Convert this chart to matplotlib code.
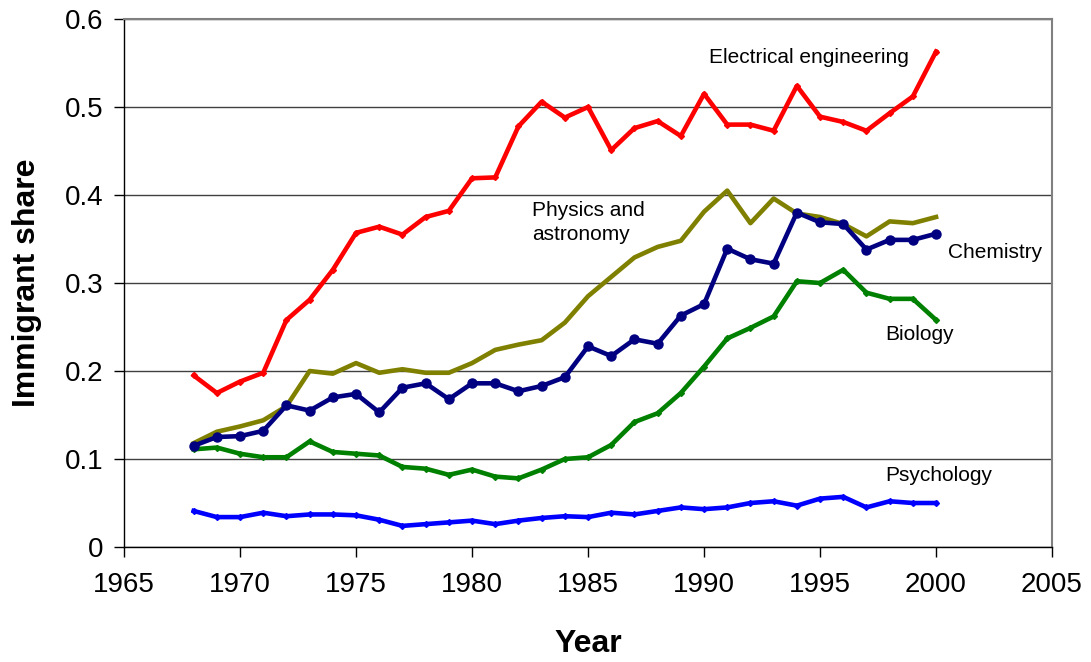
import matplotlib
matplotlib.use("Agg")
import matplotlib.pyplot as plt
from matplotlib.ticker import FuncFormatter

plt.rcParams['font.family'] = ['Liberation Sans', 'DejaVu Sans']

years = list(range(1968, 2001))

electrical = [0.195, 0.175, 0.188, 0.198, 0.258, 0.281, 0.315, 0.357, 0.364, 0.355,
              0.375, 0.382, 0.419, 0.420, 0.478, 0.506, 0.488, 0.500, 0.451, 0.476,
              0.484, 0.467, 0.515, 0.480, 0.480, 0.473, 0.524, 0.489, 0.483, 0.473,
              0.493, 0.512, 0.563]
physics = [0.118, 0.131, 0.137, 0.144, 0.160, 0.200, 0.197, 0.209, 0.198, 0.202,
           0.198, 0.198, 0.209, 0.224, 0.230, 0.235, 0.255, 0.285, 0.307, 0.329,
           0.341, 0.348, 0.381, 0.405, 0.368, 0.396, 0.379, 0.375, 0.367, 0.353,
           0.370, 0.368, 0.375]
chemistry = [0.115, 0.125, 0.126, 0.132, 0.161, 0.155, 0.170, 0.174, 0.153, 0.181,
             0.186, 0.168, 0.186, 0.186, 0.177, 0.183, 0.193, 0.228, 0.217, 0.236,
             0.231, 0.263, 0.276, 0.339, 0.327, 0.322, 0.380, 0.369, 0.367, 0.338,
             0.349, 0.349, 0.356]
biology = [0.111, 0.113, 0.106, 0.102, 0.102, 0.120, 0.108, 0.106, 0.104, 0.091,
           0.089, 0.082, 0.088, 0.080, 0.078, 0.088, 0.100, 0.102, 0.116, 0.142,
           0.152, 0.175, 0.205, 0.237, 0.249, 0.262, 0.302, 0.300, 0.315, 0.289,
           0.282, 0.282, 0.258]
psychology = [0.041, 0.034, 0.034, 0.039, 0.035, 0.037, 0.037, 0.036, 0.031, 0.024,
              0.026, 0.028, 0.030, 0.026, 0.030, 0.033, 0.035, 0.034, 0.039, 0.037,
              0.041, 0.045, 0.043, 0.045, 0.050, 0.052, 0.047, 0.055, 0.057, 0.045,
              0.052, 0.050, 0.050]

fig = plt.figure(figsize=(10.91, 6.62), dpi=100)
ax = fig.add_axes([0.1137, 0.1737, 0.8506, 0.7976])

lw = 3.3
ax.plot(years, psychology, color='#0000FF', lw=lw, marker='D', ms=3, zorder=3)
ax.plot(years, biology, color='#008000', lw=lw, marker='D', ms=3, zorder=3)
ax.plot(years, physics, color='#808000', lw=lw, zorder=3)
ax.plot(years, chemistry, color='#000080', lw=lw, marker='o', ms=6.5, zorder=4)
ax.plot(years, electrical, color='#FF0000', lw=lw, marker='D', ms=3, zorder=4)

ax.set_xlim(1965, 2005)
ax.set_ylim(0, 0.6)
ax.set_xticks(range(1965, 2006, 5))
ax.set_yticks([0, 0.1, 0.2, 0.3, 0.4, 0.5, 0.6])
ax.yaxis.set_major_formatter(FuncFormatter(lambda v, p: '0' if v == 0 else '%.1f' % v))

ax.grid(axis='y', color='#404040', lw=1.0, zorder=1)
ax.set_axisbelow(True)
for s in ['top', 'right']:
    ax.spines[s].set_color('#808080')
    ax.spines[s].set_linewidth(1.5)
for s in ['left', 'bottom']:
    ax.spines[s].set_color('black')
    ax.spines[s].set_linewidth(1.0)

ax.tick_params(axis='both', direction='out', length=7, width=1, labelsize=20)
ax.tick_params(axis='x', pad=11)
ax.tick_params(axis='y', pad=8)

ax.set_xlabel('Year', fontsize=23, fontweight='bold', labelpad=22)
ax.set_ylabel('Immigrant share', fontsize=23, fontweight='bold', labelpad=16)

tk = dict(fontsize=15, va='center', ha='left')
ax.text(1990.2, 0.556, 'Electrical engineering', **tk)
ax.text(1982.6, 0.369, 'Physics and\nastronomy', linespacing=1.3, **tk)
ax.text(2000.5, 0.335, 'Chemistry', **tk)
ax.text(1997.8, 0.241, 'Biology', **tk)
ax.text(1997.8, 0.081, 'Psychology', **tk)

fig.savefig('out.png', dpi=100)
